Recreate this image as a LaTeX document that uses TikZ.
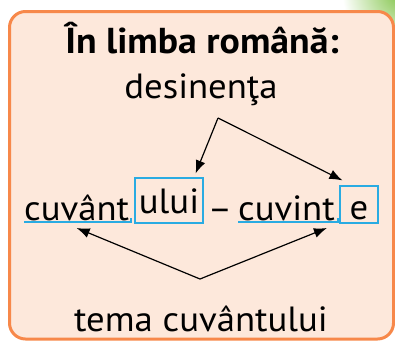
\documentclass[tikz,border=0pt]{standalone}
\usepackage{fontspec}
\setmainfont{PT Sans}[FakeStretch=1.05]
\usepackage{xcolor}
\usepackage{tikz}
\usetikzlibrary{arrows.meta,positioning,calc}

\definecolor{boxline}{HTML}{F7884A}
\definecolor{boxfill}{HTML}{FDE8DB}
\definecolor{endbox}{HTML}{29ABE2}
\definecolor{leafgreen}{HTML}{7DC243}

\begin{document}
\begin{tikzpicture}[
  x=1pt, y=-1pt,
  txt/.style={font=\fontsize{35}{40}\selectfont, inner sep=0pt, anchor=base},
  suffix/.style={txt, draw=endbox, line width=1.2pt, inner ysep=0pt},
  stem/.style={draw=endbox, line width=1.6pt},
  pointer/.style={-{Latex[length=13pt,width=10pt]}, line width=1.2pt}
]
\useasboundingbox (0,0) rectangle (395,340);

% Corner shading and frame
\begin{scope}
  \clip (0,0) rectangle (395,340);
  \shade[inner color=leafgreen, outer color=white] (402,-8) circle (60);
  \draw[boxline, fill=boxfill, line width=3pt, rounded corners=16pt]
    (9.5,11.5) rectangle (393.5,339);
\end{scope}

% Texts
\node[txt, font=\fontsize{36}{40}\selectfont\bfseries] (title) at (202,53) {În limba română:};
\node[txt] (desin) at (201,98) {desinenţa};

\node[txt, anchor=base west] (cuvant) at (24,220) {cuvânt};
\node[suffix, minimum width=68pt, text height=35pt, text depth=10pt] (ului) at (169,213) {ului};
\node[txt] (dash) at (220,220) {–};
\node[txt, anchor=base west] (cuvint) at (238,220) {cuvint};
\node[suffix, minimum width=38pt, text height=33pt, text depth=4pt] (ebox) at (359,219) {e};

\node[txt] (tema) at (201,331) {tema cuvântului};

% Underlined stems
\draw[stem] ($(cuvant.base west)+(0,2)$) -- ($(cuvant.base east)+(2,2)$) -- ++(0,-4);
\draw[stem] ($(cuvint.base west)+(0,2)$) -- ($(cuvint.base east)+(3,2)$) -- ++(0,-4);

% Arrows
\coordinate (dtop) at (218,118);
\coordinate (tbot) at (200,279);
\draw[pointer] (dtop) -- ($(ului.north east)+(-8,-4)$);
\draw[pointer] (dtop) -- ($(ebox.north west)+(3,-5)$);
\draw[pointer] (tbot) -- ($(cuvant.base)+(0,8)$);
\draw[pointer] (tbot) -- ($(cuvint.base east)+(-8,8)$);

\end{tikzpicture}
\end{document}
